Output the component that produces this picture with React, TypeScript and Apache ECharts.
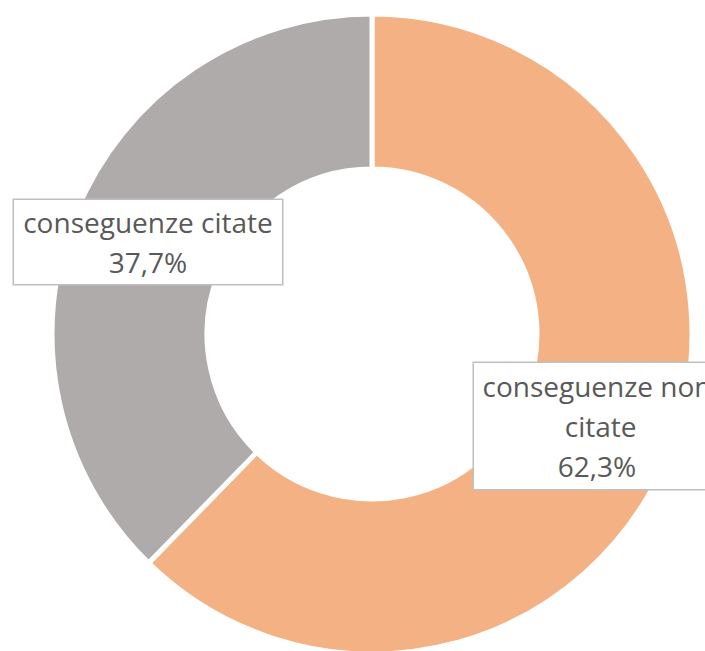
import React, { useEffect, useRef } from "react";
import * as echarts from "echarts";

const categories = ["conseguenze non citate", "conseguenze citate"];
const values = [62.3, 37.7];
const colors = ["#F4B183", "#AFABAB"];

export default function App() {
  const ref = useRef<HTMLDivElement>(null);
  useEffect(() => {
    if (!ref.current) return;
    const chart = echarts.init(ref.current, null, { renderer: "svg" });
    const labelPos = [
      { x: 597, y: 426, width: 234, padding: [3, 6] },
      { x: 148, y: 242, width: 250, padding: [2, 9] },
    ];
    chart.setOption({
      animation: false,
      backgroundColor: "#ffffff",
      series: [
        {
          type: "pie",
          center: [372, 334],
          radius: [165, 320],
          startAngle: 90,
          clockwise: true,
          silent: true,
          itemStyle: { borderColor: "#ffffff", borderWidth: 5 },
          labelLine: { show: false },
          emphasis: { disabled: true },
          data: categories.map((name, i) => ({
            name,
            value: values[i],
            itemStyle: { color: colors[i] },
            label: {
              width: labelPos[i].width,
              padding: labelPos[i].padding,
            },
          })),
          label: {
            show: true,
            position: "inside",
            fontFamily: "Open Sans",
            fontSize: 28,
            lineHeight: 40,
            color: "#595959",
            align: "center",
            overflow: "break",
            backgroundColor: "#ffffff",
            borderColor: "#BFBFBF",
            borderWidth: 1.5,
            formatter: (p: any) =>
              p.name + "\n" + p.value.toFixed(1).replace(".", ",") + "%",
          },
          labelLayout: (params: any) => {
            const lp = labelPos[params.dataIndex];
            return { x: lp.x, y: lp.y, align: "center", verticalAlign: "middle" };
          },
        },
      ],
    });
    return () => chart.dispose();
  }, []);
  return (
    <div
      ref={ref}
      style={{ position: "fixed", left: 0, top: 0, width: 705, height: 651 }}
    />
  );
}
